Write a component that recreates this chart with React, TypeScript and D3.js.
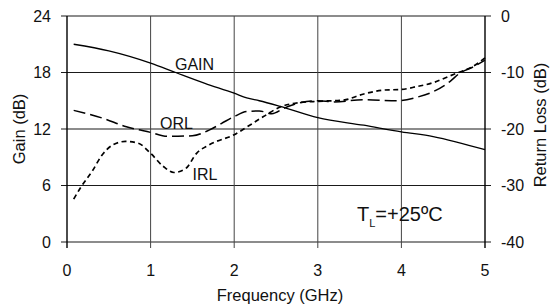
import React, { useEffect, useRef } from 'react';
import * as d3 from 'd3';

// values
const gainFreq = [0.08, 0.5, 1.0, 1.3, 1.65, 2.0, 2.15, 2.3, 2.55, 3.0, 3.55, 4.0, 4.38, 5.0];
const gainDb = [21.0, 20.3, 19.0, 18.0, 16.85, 15.8, 15.3, 15.0, 14.4, 13.2, 12.4, 11.7, 11.2, 9.8];

const irlFreq = [0.08, 0.17, 0.3, 0.42, 0.55, 0.7, 0.85, 1.0, 1.15, 1.28, 1.42, 1.55, 1.7, 2.0, 2.2, 2.35, 2.55, 2.8, 3.0, 3.3, 3.55, 3.8, 4.0, 4.18, 4.38, 4.58, 4.7, 4.86, 5.0];
const irlDb = [-32.4, -30.2, -27.5, -24.6, -22.8, -22.2, -22.5, -24.3, -26.6, -27.7, -27.0, -24.3, -22.8, -21.0, -19.2, -17.8, -16.1, -15.3, -15.1, -14.9, -13.8, -13.1, -13.0, -12.5, -11.8, -10.6, -9.9, -8.9, -7.4];

const orlFreq = [0.08, 0.43, 0.71, 1.0, 1.2, 1.5, 1.7, 1.85, 2.0, 2.15, 2.3, 2.45, 2.6, 2.8, 3.0, 3.2, 3.55, 3.95, 4.18, 4.38, 4.58, 4.7, 4.86, 5.0];
const orlDb = [-16.7, -18.1, -19.6, -20.6, -21.3, -21.2, -20.2, -19.0, -17.8, -16.9, -16.8, -17.3, -16.3, -15.3, -15.0, -15.2, -14.8, -15.0, -14.4, -13.4, -11.6, -10.1, -9.0, -7.8];

const freqTicks = [0, 1, 2, 3, 4, 5];
const gainTicks = [0, 6, 12, 18, 24];
const rlTicks = [-40, -30, -20, -10, 0];

const W = 550;
const H = 307;
const left = 67;
const right = 485;
const top = 16;
const bottom = 242;
const font = '"Liberation Sans", Arial, sans-serif';

const App = () => {
  const svgRef = useRef<SVGSVGElement>(null);

  useEffect(() => {
    const svg = d3.select(svgRef.current);
    svg.selectAll('*').remove();

    const x = d3.scaleLinear().domain([0, 5]).range([left, right]);
    const yG = d3.scaleLinear().domain([0, 24]).range([bottom, top]);
    const yR = d3.scaleLinear().domain([-40, 0]).range([bottom, top]);

    // grid
    const g = svg.append('g');
    g.selectAll('line.h')
      .data(gainTicks)
      .join('line')
      .attr('x1', left - 6)
      .attr('x2', right + 6)
      .attr('y1', (d) => yG(d))
      .attr('y2', (d) => yG(d))
      .attr('stroke', '#1a1a1a')
      .attr('stroke-width', 1.2);
    g.selectAll('line.v')
      .data(freqTicks)
      .join('line')
      .attr('x1', (d) => x(d))
      .attr('x2', (d) => x(d))
      .attr('y1', top)
      .attr('y2', bottom + 6)
      .attr('stroke', (d) => (d === 0 || d === 5 ? '#000' : '#444'))
      .attr('stroke-width', (d) => (d === 0 || d === 5 ? 1.4 : 1));

    // tick labels
    svg.append('g')
      .selectAll('text')
      .data(gainTicks)
      .join('text')
      .attr('x', 51)
      .attr('y', (d) => yG(d) + 5.5)
      .attr('text-anchor', 'end')
      .text((d) => d);
    svg.append('g')
      .selectAll('text')
      .data(rlTicks)
      .join('text')
      .attr('x', 501)
      .attr('y', (d) => yR(d) + 5.5)
      .text((d) => d);
    svg.append('g')
      .selectAll('text')
      .data(freqTicks)
      .join('text')
      .attr('x', (d) => x(d))
      .attr('y', 276)
      .attr('text-anchor', 'middle')
      .text((d) => d);

    svg.selectAll('text').attr('font-family', font).attr('font-size', 16).attr('fill', '#111');

    // axis titles
    svg.append('text')
      .attr('x', 280)
      .attr('y', 301)
      .attr('text-anchor', 'middle')
      .attr('font-family', font)
      .attr('font-size', 16.5)
      .attr('fill', '#111')
      .text('Frequency (GHz)');
    svg.append('text')
      .attr('transform', `translate(25,${(top + bottom) / 2}) rotate(-90)`)
      .attr('text-anchor', 'middle')
      .attr('font-family', font)
      .attr('font-size', 16.5)
      .attr('fill', '#111')
      .text('Gain (dB)');
    svg.append('text')
      .attr('transform', `translate(546,${(top + bottom) / 2 - 4}) rotate(-90)`)
      .attr('text-anchor', 'middle')
      .attr('font-family', font)
      .attr('font-size', 16.5)
      .attr('fill', '#111')
      .text('Return Loss (dB)');

    // curves
    const lineG = d3.line<number>()
      .x((d, i) => x(gainFreq[i]))
      .y((d) => yG(d))
      .curve(d3.curveMonotoneX);
    const lineIrl = d3.line<number>()
      .x((d, i) => x(irlFreq[i]))
      .y((d) => yR(d))
      .curve(d3.curveMonotoneX);
    const lineOrl = d3.line<number>()
      .x((d, i) => x(orlFreq[i]))
      .y((d) => yR(d))
      .curve(d3.curveMonotoneX);

    svg.append('path')
      .attr('d', lineG(gainDb))
      .attr('fill', 'none')
      .attr('stroke', '#000')
      .attr('stroke-width', 1.3);
    svg.append('path')
      .attr('d', lineOrl(orlDb))
      .attr('fill', 'none')
      .attr('stroke', '#000')
      .attr('stroke-width', 1.5)
      .attr('stroke-dasharray', '12 5');
    svg.append('path')
      .attr('d', lineIrl(irlDb))
      .attr('fill', 'none')
      .attr('stroke', '#000')
      .attr('stroke-width', 1.7)
      .attr('stroke-dasharray', '5 3.5');

    // curve labels
    const labels = [
      { t: 'GAIN', x: 175, y: 69.5 },
      { t: 'ORL', x: 160, y: 128.5 },
      { t: 'IRL', x: 192.5, y: 179.5 },
    ];
    svg.append('g')
      .selectAll('text')
      .data(labels)
      .join('text')
      .attr('x', (d) => d.x)
      .attr('y', (d) => d.y)
      .attr('font-family', font)
      .attr('font-size', 16)
      .attr('fill', '#111')
      .text((d) => d.t);

    const tl = svg.append('text')
      .attr('x', 357)
      .attr('y', 221)
      .attr('font-family', font)
      .attr('font-size', 20)
      .attr('fill', '#111');
    tl.append('tspan').text('T');
    tl.append('tspan').attr('font-size', 11).attr('dy', 6).text('L');
    tl.append('tspan').attr('dy', -6).text('=+25ºC');
  }, []);

  return (
    <div style={{ position: 'absolute', left: 0, top: 0 }}>
      <svg ref={svgRef} width={W} height={H} style={{ display: 'block', background: '#fff' }} />
    </div>
  );
};

export default App;
